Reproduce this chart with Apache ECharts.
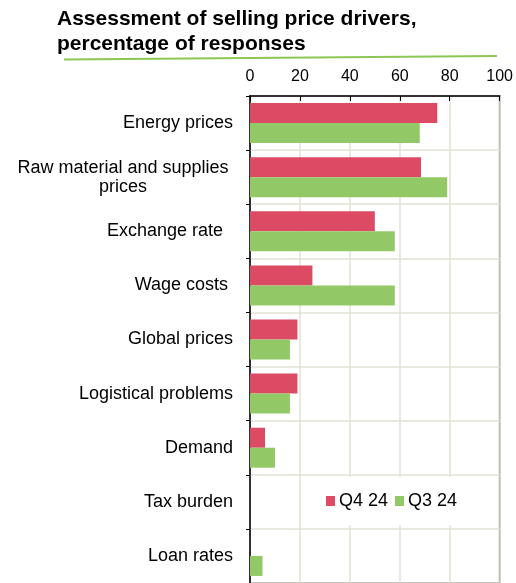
<!DOCTYPE html>
<html>
<head>
<meta charset="utf-8">
<script src="https://cdn.jsdelivr.net/npm/echarts@6/dist/echarts.min.js"></script>
<style>
    html, body { margin: 0; padding: 0; background: #fff; }
    #chart { width: 516px; height: 583px; }
</style>
</head>
<body>
<div id="chart"></div>
<script>
// categories from top to bottom
const categories = [
    'Energy prices',
    'Raw material and supplies\nprices',
    'Exchange rate  ',
    'Wage costs ',
    'Global prices',
    'Logistical problems',
    'Demand',
    'Tax burden',
    'Loan rates'
]
const q4_24 = [75, 68.5, 50, 25, 19, 19, 6, 0, 0]
const q3_24 = [68, 79, 58, 58, 16, 16, 10, 0, 5]
const seriesNames = ['Q4 24', 'Q3 24']
const xTicks = [0, 20, 40, 60, 80, 100]

const font = 'Liberation Sans, Arial, sans-serif'
const red = '#dc4a64'
const green = '#92c966'

const chart = echarts.init(document.getElementById('chart'))

const options = {
    animation: false,
    title: {
        text: 'Assessment of selling price drivers,\npercentage of responses',
        left: 57,
        top: 7,
        padding: 0,
        textStyle: {
            fontFamily: font,
            fontSize: 21,
            fontWeight: 'bold',
            lineHeight: 25,
            color: '#000'
        }
    },
    // green underline below the title
    graphic: [{
        type: 'line',
        shape: {x1: 64, y1: 59.5, x2: 497, y2: 56},
        style: {stroke: '#8cc653', lineWidth: 2}
    }],
    legend: {
        data: seriesNames,
        left: 317,
        top: 477,
        padding: [15, 1, 15, 9],
        backgroundColor: '#fff',
        itemWidth: 9,
        itemHeight: 10,
        itemGap: 7,
        icon: 'rect',
        textStyle: {
            fontFamily: font,
            fontSize: 18,
            color: '#000',
            padding: [0, 0, 0, -1]
        }
    },
    grid: {
        left: 250,
        right: 14,
        top: 96,
        bottom: -2,
        show: true,
        borderColor: '#444',
        borderWidth: 1.5,
        containLabel: false
    },
    xAxis: {
        type: 'value',
        position: 'top',
        min: xTicks[0],
        max: xTicks[xTicks.length - 1],
        interval: 20,
        axisLine: {show: true, lineStyle: {color: '#000', width: 1.5}},
        axisTick: {show: true, inside: true, length: 5, lineStyle: {color: '#000'}},
        axisLabel: {
            margin: 11,
            fontFamily: font,
            fontSize: 16,
            color: '#000'
        },
        splitLine: {show: true, lineStyle: {color: '#e2e2d6', width: 1.5}}
    },
    yAxis: {
        type: 'category',
        inverse: true,
        data: categories,
        axisLine: {show: true, lineStyle: {color: '#000', width: 1.5}},
        axisTick: {show: true, length: 4, lineStyle: {color: '#000'}},
        splitLine: {show: true, lineStyle: {color: '#e2e2d6', width: 1.5}},
        axisLabel: {
            margin: 17,
            fontFamily: font,
            fontSize: 18,
            lineHeight: 19,
            color: '#000',
            formatter: v => v.indexOf('\n') >= 0 ? '{c|' + v + '}' : v,
            rich: {
                c: {
                    width: 220,
                    align: 'center',
                    fontFamily: font,
                    fontSize: 18,
                    lineHeight: 19,
                    color: '#000'
                }
            }
        }
    },
    series: [
        {
            name: seriesNames[0],
            type: 'bar',
            color: red,
            barWidth: 20,
            barGap: '0%',
            data: q4_24
        },
        {
            name: seriesNames[1],
            type: 'bar',
            color: green,
            barWidth: 20,
            data: q3_24
        }
    ]
}

chart.setOption(options)
</script>
</body>
</html>
